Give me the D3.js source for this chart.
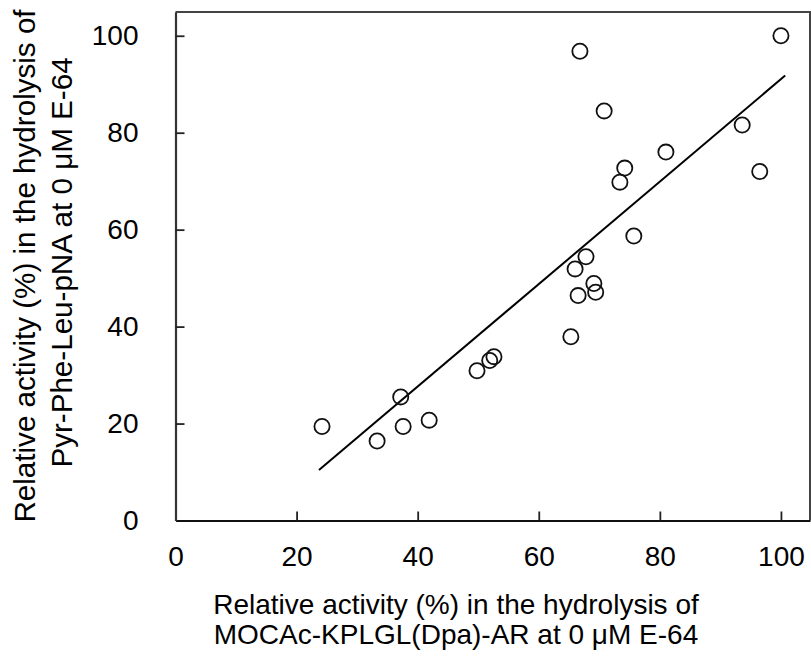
<!DOCTYPE html>
<html>
<head>
<meta charset="utf-8">
<script src="https://cdn.jsdelivr.net/npm/d3@7"></script>
<style>
  html, body { margin: 0; padding: 0; background: #fff; }
  svg { display: block; }
  text { font-family: Arial, "Liberation Sans", sans-serif; fill: #000; }
</style>
</head>
<body>
<svg id="chart" width="811" height="664"></svg>
<script>
// ---- data ----
const xValues = [24.2, 33.3, 37.2, 37.6, 41.9, 49.8, 51.9, 52.6, 65.3, 66.0, 66.5, 67.8, 69.1, 69.4, 66.8, 70.8, 73.4, 74.2, 75.7, 81.0, 93.6, 96.5, 100.0];
const yValues = [19.4, 16.4, 25.5, 19.4, 20.7, 30.9, 33.0, 33.8, 37.9, 51.9, 46.4, 54.4, 48.9, 47.1, 96.8, 84.5, 69.8, 72.7, 58.7, 76.0, 81.6, 72.0, 100.0];
const xTicks = [0, 20, 40, 60, 80, 100];
const yTicks = [0, 20, 40, 60, 80, 100];
const fitSlope = 1.057;
const fitIntercept = -14.65;
const fitRange = [23.7, 100.7];
const xTitle = ["Relative activity (%) in the hydrolysis of", "MOCAc-KPLGL(Dpa)-AR at 0 \u03bcM E-64"];
const yTitle = ["Relative activity (%) in the hydrolysis of", "Pyr-Phe-Leu-pNA at 0 \u03bcM E-64"];

(function () {
// ---- layout ----
const svg = d3.select("#chart");
const pLeft = 175.5, pRight = 810, pTop = 12, pBottom = 520.5;
const x = d3.scaleLinear().domain([0, 104.8]).range([pLeft, pRight]);
const y = d3.scaleLinear().domain([0, 104.9]).range([pBottom, pTop]);

// frame (top & right)
svg.append("path")
  .attr("d", `M${pLeft},${pTop}H${pRight}V${pBottom}`)
  .attr("fill", "none").attr("stroke", "#444").attr("stroke-width", 2);

// x axis
const xAxis = svg.append("g").attr("transform", `translate(0,${pBottom})`)
  .call(d3.axisBottom(x).tickValues(xTicks).tickSizeInner(-9).tickSizeOuter(0).tickPadding(26));
xAxis.select(".domain").attr("stroke", "#111").attr("stroke-width", 2.2);
xAxis.selectAll(".tick line").attr("stroke", "#222").attr("stroke-width", 1.8);
xAxis.selectAll(".tick").filter(d => d === 0).select("line").remove();
xAxis.selectAll("text").attr("font-size", 28).attr("font-family", "Arial, 'Liberation Sans', sans-serif").attr("fill", "#000");

// y axis
const yAxis = svg.append("g").attr("transform", `translate(${pLeft},0)`)
  .call(d3.axisLeft(y).tickValues(yTicks).tickSizeInner(-9).tickSizeOuter(0).tickPadding(37));
yAxis.select(".domain").attr("stroke", "#333").attr("stroke-width", 2.2);
yAxis.selectAll(".tick line").attr("stroke", "#222").attr("stroke-width", 1.8);
yAxis.selectAll(".tick").filter(d => d === 0).select("line").remove();
yAxis.selectAll("text").attr("font-size", 28).attr("font-family", "Arial, 'Liberation Sans', sans-serif").attr("fill", "#000");

// regression line
svg.append("line")
  .attr("x1", x(fitRange[0])).attr("y1", y(fitSlope * fitRange[0] + fitIntercept))
  .attr("x2", x(fitRange[1])).attr("y2", y(fitSlope * fitRange[1] + fitIntercept))
  .attr("stroke", "#000").attr("stroke-width", 2);

// points
const pts = xValues.map((v, i) => ({ x: v, y: yValues[i] }));
svg.append("g").selectAll("circle").data(pts).join("circle")
  .attr("cx", d => x(d.x)).attr("cy", d => y(d.y)).attr("r", 7.6)
  .attr("fill", "none").attr("stroke", "#111").attr("stroke-width", 1.8);

// x title
const xBase = [614, 644];
xTitle.forEach((t, i) => {
  svg.append("text").attr("x", 456).attr("y", xBase[i])
    .attr("text-anchor", "middle").attr("font-size", 28)
    .text(t);
});

// y title
const yCenters = [266, 262.5];
const yBase = [35, 72];
yTitle.forEach((t, i) => {
  svg.append("text")
    .attr("transform", `translate(${yBase[i]},${yCenters[i]}) rotate(-90)`)
    .attr("text-anchor", "middle").attr("font-size", 29.6)
    .text(t);
});
})();
</script>
</body>
</html>
